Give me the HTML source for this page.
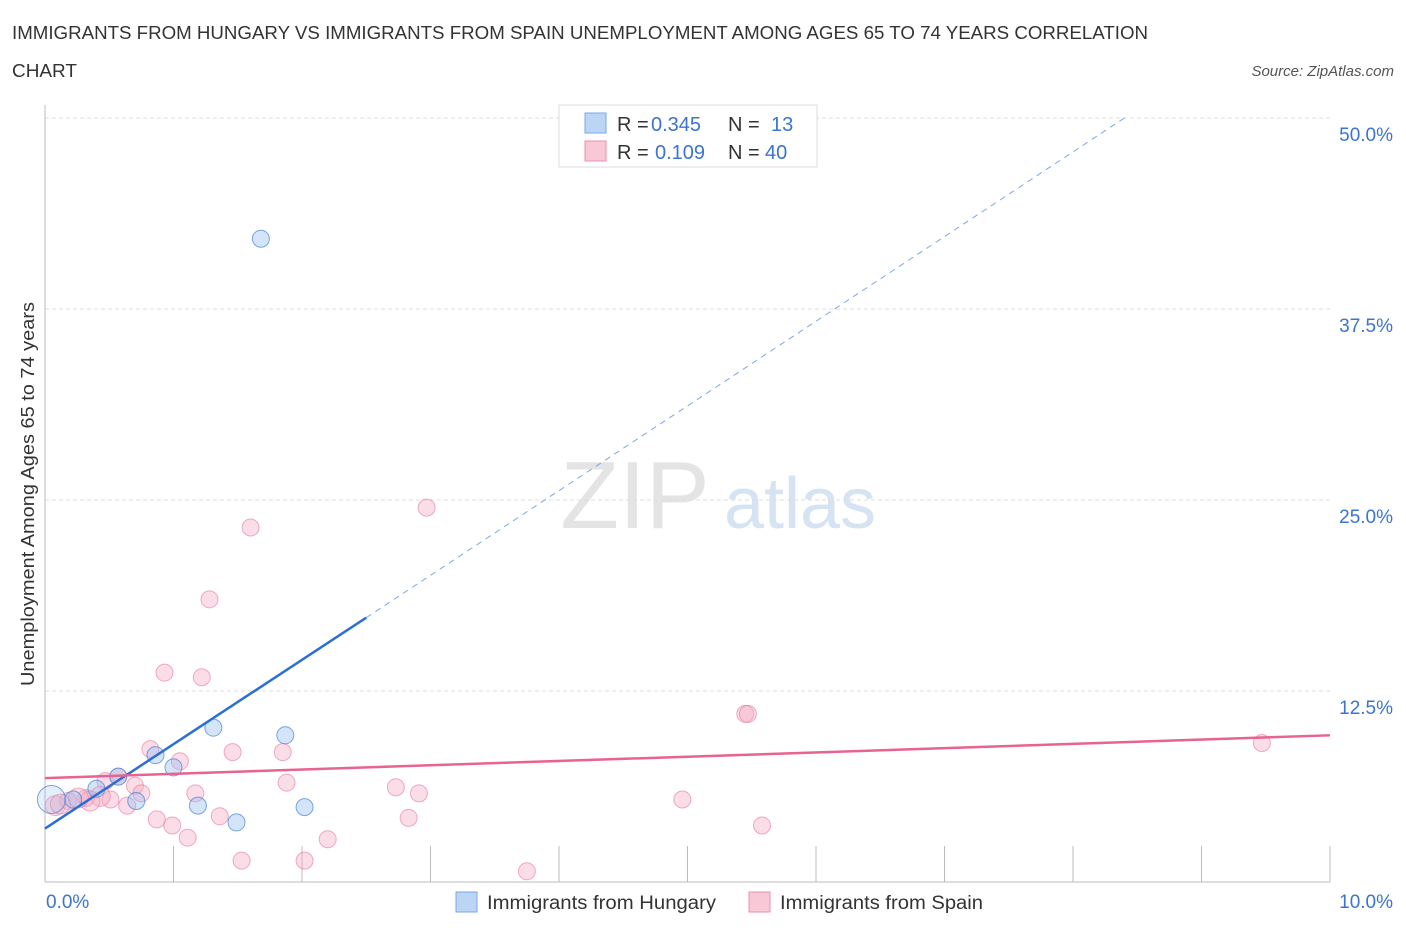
<!DOCTYPE html>
<html><head><meta charset="utf-8"><style>
body{margin:0;background:#fff;font-family:"Liberation Sans",sans-serif;}
svg text{font-family:"Liberation Sans",sans-serif;}
</style></head><body>
<svg width="1406" height="930" id="c">
<text x="12" y="39" font-size="18" fill="#333" textLength="1136" lengthAdjust="spacingAndGlyphs">IMMIGRANTS FROM HUNGARY VS IMMIGRANTS FROM SPAIN UNEMPLOYMENT AMONG AGES 65 TO 74 YEARS CORRELATION</text>
<text x="12" y="77" font-size="18" fill="#333" textLength="65" lengthAdjust="spacingAndGlyphs">CHART</text>
<text x="1394" y="76" font-size="15" font-style="italic" fill="#555" text-anchor="end">Source: ZipAtlas.com</text>
<text x="635" y="528" font-size="96" fill="#e4e4e4" font-family="Liberation Serif" text-anchor="middle">ZIP</text>
<text x="800" y="528" font-size="72" fill="#d5e3f3" text-anchor="middle">atlas</text>
<text x="34" y="494" font-size="18" fill="#333" text-anchor="middle" textLength="384" lengthAdjust="spacingAndGlyphs" transform="rotate(-90 34 494)">Unemployment Among Ages 65 to 74 years</text>
<g id="grid"></g><g id="marks"></g>
<g>
<rect x="559" y="105" width="258" height="62" fill="#fff" stroke="#ddd"/>
<rect x="585" y="113" width="21" height="20" fill="#bcd5f5" stroke="#7aa8e8"/>
<rect x="585" y="141" width="21" height="20" fill="#f9c8d6" stroke="#eb91ad"/>
<text x="617" y="131" font-size="20" fill="#333">R = <tspan x="651" fill="#3b74d0">0.345</tspan><tspan x="728">N = </tspan><tspan x="771" fill="#3b74d0">13</tspan></text>
<text x="617" y="159" font-size="20" fill="#333">R = <tspan x="655" fill="#3b74d0">0.109</tspan><tspan x="728">N = </tspan><tspan x="765" fill="#3b74d0">40</tspan></text>
</g>
<g>
<rect x="456" y="892" width="21" height="20" fill="#bcd5f5" stroke="#7aa8e8"/>
<text x="487" y="909" font-size="19" fill="#333" textLength="229" lengthAdjust="spacingAndGlyphs">Immigrants from Hungary</text>
<rect x="749" y="892" width="21" height="20" fill="#f9c8d6" stroke="#eb91ad"/>
<text x="780" y="909" font-size="19" fill="#333" textLength="203" lengthAdjust="spacingAndGlyphs">Immigrants from Spain</text>
</g>
</svg>
<script>
const yTicks=[12.5,25,37.5,50];
const yTickLabels=["12.5%","25.0%","37.5%","50.0%"];
const xTickLabels=["0.0%","10.0%"];
const hungaryX=[1.68,1.31,1.87,0.86,1.00,0.57,0.40,0.71,1.19,2.02,1.49,0.05,0.22];
const hungaryY=[42.1,10.1,9.6,8.3,7.5,6.9,6.1,5.3,5.0,4.9,3.9,5.4,5.4];
const spainX=[1.60,2.97,1.28,0.93,1.22,5.45,5.47,9.47,0.82,1.05,1.46,1.85,0.47,0.70,0.57,1.88,2.73,2.91,1.17,0.75,0.51,0.32,0.18,0.08,0.64,4.96,0.87,0.99,1.36,2.83,5.58,1.11,2.20,1.53,2.02,3.75,0.12,0.43,0.35,0.26];
const spainY=[23.2,24.5,18.5,13.7,13.4,11.0,11.0,9.1,8.7,7.9,8.5,8.5,6.6,6.3,6.9,6.5,6.2,5.8,5.8,5.8,5.4,5.5,5.3,5.0,5.0,5.4,4.1,3.7,4.3,4.2,3.7,2.9,2.8,1.4,1.4,0.7,5.1,5.6,5.3,5.5];
const hungaryLine=[0,3.5,2.5,17.3,8.4,50.0];
const spainLine=[0,6.8,10,9.6];
const X0=45,X1=1330,Y0=882,Y50=118;
const sx=v=>X0+(X1-X0)*v/10, sy=v=>Y0-(Y0-Y50)*v/50;
const NS="http://www.w3.org/2000/svg";
function mk(t,a,p){const e=document.createElementNS(NS,t);for(const k in a)e.setAttribute(k,a[k]);p.appendChild(e);return e;}
const g=document.getElementById('grid'),m=document.getElementById('marks');
yTicks.forEach((t,i)=>{
 const l=mk('line',{x1:X0,x2:X1,y1:sy(t),y2:sy(t),stroke:'#ddd','stroke-dasharray':'4 3'},g);
 
 
 const tx=mk('text',{x:1393,y:sy(t)+23,'font-size':19,fill:'#3b74d0','text-anchor':'end'},g);tx.textContent=yTickLabels[i];
 
 
});
mk('line',{x1:X0,x2:X0,y1:105,y2:Y0,stroke:'#bbb'},g);
mk('line',{x1:X0,x2:X1,y1:Y0,y2:Y0,stroke:'#bbb'},g);
for(let i=1;i<=10;i++){const l=mk('line',{x1:sx(i),x2:sx(i),y1:Y0,y2:Y0-36,stroke:'#bbb'},g);
 
 }
[[0,'start',46],[10,'end',1393]].forEach((d,i)=>{const t=mk('text',{x:d[2],y:908,'font-size':19,fill:'#3b74d0','text-anchor':d[1]},g);t.textContent=xTickLabels[i];
 
 });
spainX.forEach((x,i)=>{const c=mk('circle',{cx:sx(x),cy:sy(spainY[i]),r:i>=36||i==23?10:8.5,fill:'rgba(246,170,195,0.4)',stroke:'rgba(232,120,155,0.6)'},m);
 
 });
hungaryX.forEach((x,i)=>{const c=mk('circle',{cx:sx(x),cy:sy(hungaryY[i]),r:i==11?14:8.5,fill:i==11?'rgba(150,190,240,0.25)':'rgba(150,190,240,0.4)',stroke:'rgba(70,130,215,0.7)'},m);
 
 });
const h=hungaryLine;
let l1=mk('line',{x1:sx(h[0]),y1:sy(h[1]),x2:sx(h[2]),y2:sy(h[3]),stroke:'#2a6fd6','stroke-width':2.5},m);


let l2=mk('line',{x1:sx(h[2]),y1:sy(h[3]),x2:sx(h[4]),y2:sy(h[5]),stroke:'#7aa8e8','stroke-width':1,'stroke-dasharray':'6 5'},m);


let l3=mk('line',{x1:sx(spainLine[0]),y1:sy(spainLine[1]),x2:sx(spainLine[2]),y2:sy(spainLine[3]),stroke:'#e8638f','stroke-width':2.5},m);


</script>
</body></html>
